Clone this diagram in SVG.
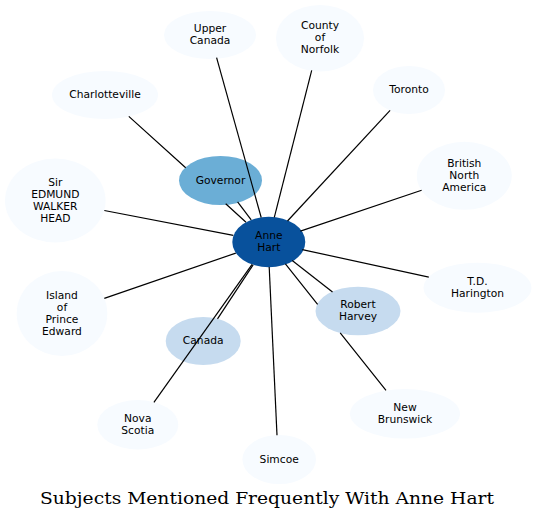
<svg xmlns="http://www.w3.org/2000/svg" width="537" height="520" viewBox="0 0 537 520">
<style>
.n text{font-family:"DejaVu Sans","Liberation Sans",sans-serif;font-size:10.7px;fill:#000;text-anchor:middle}
.l0{fill:#f7fbff}
.l1{fill:#c6dbef}
.l2{fill:#6baed6}
.l3{fill:#08519c}
#edges path{stroke:#000;stroke-width:1.2;fill:none}
.title{font-family:"DejaVu Serif","Liberation Serif",serif;font-size:16.5px;fill:#000;text-anchor:middle}
</style>
<rect width="537" height="520" fill="#fff"/>
<g id="nodes">
<g id="upper-canada" class="n"><ellipse class="l0" cx="210" cy="35" rx="46" ry="24"/><text x="210" y="32">Upper</text><text x="210" y="44">Canada</text></g>
<g id="county-of-norfolk" class="n"><ellipse class="l0" cx="320" cy="38.3" rx="44" ry="33.3"/><text x="320" y="29.3">County</text><text x="320" y="41.3">of</text><text x="320" y="53.3">Norfolk</text></g>
<g id="toronto" class="n"><ellipse class="l0" cx="409" cy="90" rx="36" ry="24"/><text x="409" y="93">Toronto</text></g>
<g id="charlotteville" class="n"><ellipse class="l0" cx="105" cy="95" rx="53" ry="24"/><text x="105" y="98">Charlotteville</text></g>
<g id="british-north-america" class="n"><ellipse class="l0" cx="464.3" cy="175.8" rx="47.5" ry="34"/><text x="464.3" y="166.8">British</text><text x="464.3" y="178.8">North</text><text x="464.3" y="190.8">America</text></g>
<g id="sir-edmund-walker-head" class="n"><ellipse class="l0" cx="55.3" cy="200.5" rx="50.3" ry="42"/><text x="55.3" y="185.5">Sir</text><text x="55.3" y="197.5">EDMUND</text><text x="55.3" y="209.5">WALKER</text><text x="55.3" y="221.5">HEAD</text></g>
<g id="governor" class="n"><ellipse class="l2" cx="220.5" cy="180.5" rx="41.5" ry="24.5"/><text x="220.5" y="183.5">Governor</text></g>
<g id="anne-hart" class="n"><ellipse class="l3" cx="268.8" cy="242" rx="36.5" ry="25.3"/><text x="268.8" y="239">Anne</text><text x="268.8" y="251">Hart</text></g>
<g id="td-harington" class="n"><ellipse class="l0" cx="477.5" cy="287.7" rx="54" ry="25"/><text x="477.5" y="284.7">T.D.</text><text x="477.5" y="296.7">Harington</text></g>
<g id="island-of-prince-edward" class="n"><ellipse class="l0" cx="62" cy="313.5" rx="45.3" ry="42.5"/><text x="62" y="298.5">Island</text><text x="62" y="310.5">of</text><text x="62" y="322.5">Prince</text><text x="62" y="334.5">Edward</text></g>
<g id="robert-harvey" class="n"><ellipse class="l1" cx="358" cy="311" rx="42.5" ry="24.3"/><text x="358" y="308">Robert</text><text x="358" y="320">Harvey</text></g>
<g id="canada" class="n"><ellipse class="l1" cx="203.2" cy="341" rx="37.5" ry="24"/><text x="203.2" y="344">Canada</text></g>
<g id="new-brunswick" class="n"><ellipse class="l0" cx="405" cy="413.8" rx="55" ry="24.8"/><text x="405" y="410.8">New</text><text x="405" y="422.8">Brunswick</text></g>
<g id="nova-scotia" class="n"><ellipse class="l0" cx="137.8" cy="424.7" rx="40.5" ry="24.7"/><text x="137.8" y="421.7">Nova</text><text x="137.8" y="433.7">Scotia</text></g>
<g id="simcoe" class="n"><ellipse class="l0" cx="279.2" cy="459.5" rx="36.8" ry="24.5"/><text x="279.2" y="462.5">Simcoe</text></g>
</g>
<g id="edges">
<path d="M261.2,217.5 L216.6,57.7"/>
<path d="M274.3,217.4 L311.7,70.4"/>
<path d="M287.5,221 L390.1,110.4"/>
<path d="M246,222.2 L225.7,203.8 M185.7,167.8 L128.8,116.4"/>
<path d="M251.2,219.9 L237.6,201.9"/>
<path d="M300.4,231.1 L421.6,190.3"/>
<path d="M233.3,235.3 L104.3,210.5"/>
<path d="M302.3,249.6 L428.8,277.2"/>
<path d="M235.8,253.1 L104.3,298.4"/>
<path d="M292.2,260.5 L332.5,292"/>
<path d="M253.1,264.8 L217.5,318.9"/>
<path d="M285.4,263.9 L317.6,304.4 M340.2,332.8 L386,390.3"/>
<path d="M252.1,264.4 L153.9,402.3"/>
<path d="M269.2,267 L277,435.2"/>
</g>
<text class="title" x="267" y="503.5" textLength="454" lengthAdjust="spacingAndGlyphs">Subjects Mentioned Frequently With Anne Hart</text>
</svg>
